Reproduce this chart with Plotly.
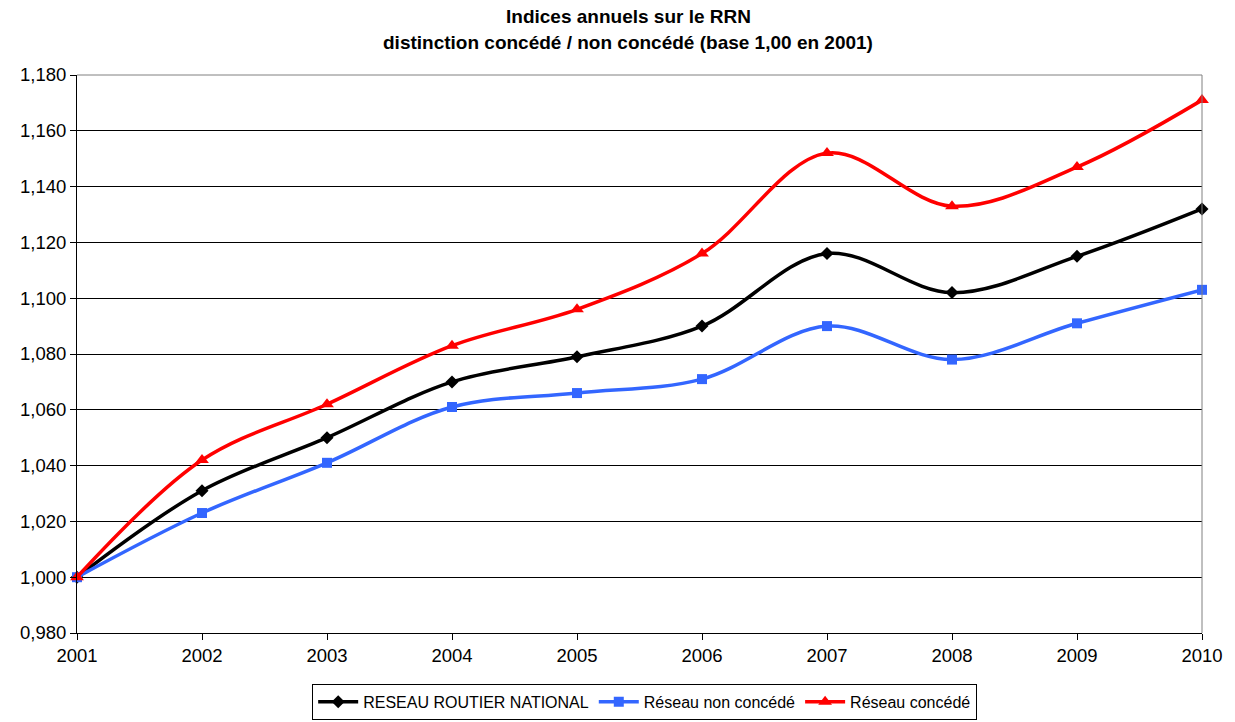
import plotly.graph_objects as go

years = [2001, 2002, 2003, 2004, 2005, 2006, 2007, 2008, 2009, 2010]
rrn = [1.000, 1.031, 1.050, 1.070, 1.079, 1.090, 1.116, 1.102, 1.115, 1.132]
non_concede = [1.000, 1.023, 1.041, 1.061, 1.066, 1.071, 1.090, 1.078, 1.091, 1.103]
concede = [1.000, 1.042, 1.062, 1.083, 1.096, 1.116, 1.152, 1.133, 1.147, 1.171]
y_ticks = [0.98, 1.00, 1.02, 1.04, 1.06, 1.08, 1.10, 1.12, 1.14, 1.16, 1.18]
title_lines = ["Indices annuels sur le RRN",
               "distinction concédé / non concédé (base 1,00 en 2001)"]

font = "Liberation Sans, Arial, sans-serif"
fig = go.Figure()
series = [
    ("RESEAU ROUTIER NATIONAL", rrn, "#000000", "diamond", 10),
    ("Réseau non concédé", non_concede, "#3366FF", "square", 10),
    ("Réseau concédé", concede, "#FF0000", "triangle-up", 12),
]
for name, vals, col, sym, sz in series:
    fig.add_trace(go.Scatter(
        x=years, y=vals, name=name, mode="lines+markers",
        line=dict(color=col, width=3.5, shape="spline", smoothing=1.0),
        marker=dict(symbol=sym, size=sz, color=col),
        cliponaxis=False,
    ))

fig.update_layout(
    width=1235, height=722,
    paper_bgcolor="white", plot_bgcolor="white",
    margin=dict(l=77, r=33, t=75, b=89),
    separators=", ",
    font=dict(family=font, color="black", size=18.5),
    xaxis=dict(
        range=[2001, 2010], tickvals=years, ticks="outside", ticklen=6,
        tickcolor="black", showline=True, linecolor="black", linewidth=1,
        showgrid=False, zeroline=False, mirror=False,
    ),
    yaxis=dict(
        range=[0.98, 1.18], tickvals=y_ticks, tickformat=".3f",
        ticks="outside", ticklen=6, tickcolor="black",
        showline=True, linecolor="black", linewidth=1,
        showgrid=True, gridcolor="black", gridwidth=1, zeroline=False,
    ),
    legend=dict(
        orientation="h", xref="container", yref="container",
        x=0.522, xanchor="center", y=0.003, yanchor="bottom",
        bordercolor="black", borderwidth=1, font=dict(size=16, family=font),
        itemwidth=40, tracegroupgap=0,
    ),
    showlegend=True,
)
for i, (txt, yy) in enumerate(zip(title_lines, [1.104, 1.059])):
    fig.add_annotation(text="<b>%s</b>" % txt, xref="paper", yref="paper",
                       x=0.49, y=yy, xanchor="center", yanchor="middle",
                       showarrow=False, font=dict(size=19, family=font))
fig.add_shape(type="line", xref="paper", yref="paper", x0=1, x1=1, y0=0, y1=1,
              line=dict(color="#808080", width=1))
fig.add_shape(type="line", xref="paper", yref="paper", x0=0, x1=1, y0=1, y1=1,
              line=dict(color="#808080", width=1))

fig.write_html(
    "out.html",
    config={"displayModeBar": False},
    post_script="document.body.style.margin='0';document.body.style.padding='0';document.documentElement.style.overflow='hidden';",
)
